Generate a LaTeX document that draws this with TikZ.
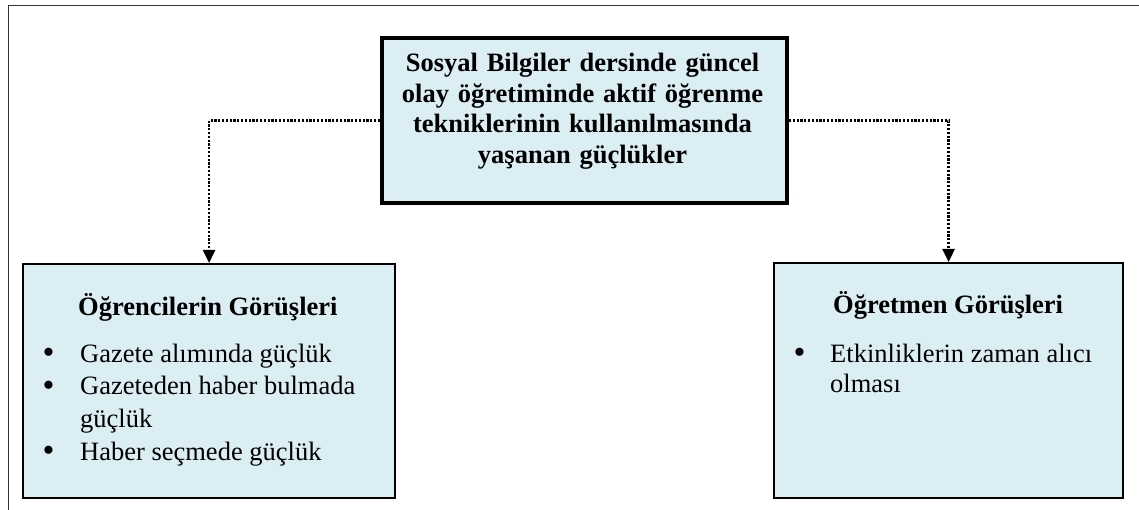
\documentclass[tikz,border=0pt]{standalone}
\usepackage{fontspec}
\setmainfont{Liberation Serif}
\usetikzlibrary{arrows.meta}
\definecolor{boxfill}{RGB}{218,238,243}
\newcommand{\bigbul}{\smash{\fontsize{34}{34}\selectfont\raisebox{-1.6pt}{\textbullet}}}
\begin{document}
\begin{tikzpicture}[x=1pt,y=-1pt,
  frame/.style={draw=black!80, line width=1.5pt},
  mainbox/.style={draw=black, fill=boxfill, line width=4pt, anchor=north west, inner sep=0pt, minimum width=405pt, minimum height=165pt},
  sidebox/.style={draw=black, fill=boxfill, line width=2.2pt, anchor=north west, inner sep=0pt},
  conn/.style={line width=2.5pt, dash pattern=on 2.2pt off 1.6pt, -{Triangle[length=13pt,width=12pt]}},
  titletext/.style={font=\fontsize{26.5}{30.5}\selectfont\bfseries, align=center, text width=400pt, inner sep=0pt},
  headtext/.style={font=\fontsize{26.5}{30}\selectfont\bfseries, inner sep=0pt, anchor=base west},
  listtext/.style={inner sep=0pt, anchor=base west}
]
\useasboundingbox (0,0) rectangle (1139,510);
\fill[white] (0,0) rectangle (1139,510);
\draw[frame] (8.5,510) -- (8.5,5.5) -- (1139,5.5);

\node[mainbox] (main) at (380,36) {};
\node[sidebox, minimum width=372pt, minimum height=234pt] (lbox) at (22,263) {};
\node[sidebox, minimum width=349pt, minimum height=235pt] (rbox) at (773,262) {};

\draw[conn] (main.west) -| (lbox.north);
\draw[conn] (main.east) -| (rbox.north);

\node[titletext, anchor=base] (ttl) at (582.5,72) {Sosyal Bilgiler dersinde güncel\\olay öğretiminde aktif öğrenme\\tekniklerinin kullanılmasında\\yaşanan güçlükler};

\node[headtext] (lhead) at (78,315) {Öğrencilerin Görüşleri};
\node[listtext, font=\fontsize{26.5}{32.7}\selectfont] (llist) at (42.5,362) {\begin{tabular}[t]{@{}p{37.5pt}@{}l@{}}\bigbul & Gazete alımında güçlük\\ \bigbul & Gazeteden haber bulmada\\ & güçlük\\ \bigbul & Haber seçmede güçlük\end{tabular}};

\node[headtext] (rhead) at (833,313) {Öğretmen Görüşleri};
\node[listtext, font=\fontsize{26.5}{30}\selectfont] (rlist) at (793.5,362) {\begin{tabular}[t]{@{}p{36.5pt}@{}l@{}}\bigbul & Etkinliklerin zaman alıcı\\ & olması\end{tabular}};
\end{tikzpicture}
\end{document}
